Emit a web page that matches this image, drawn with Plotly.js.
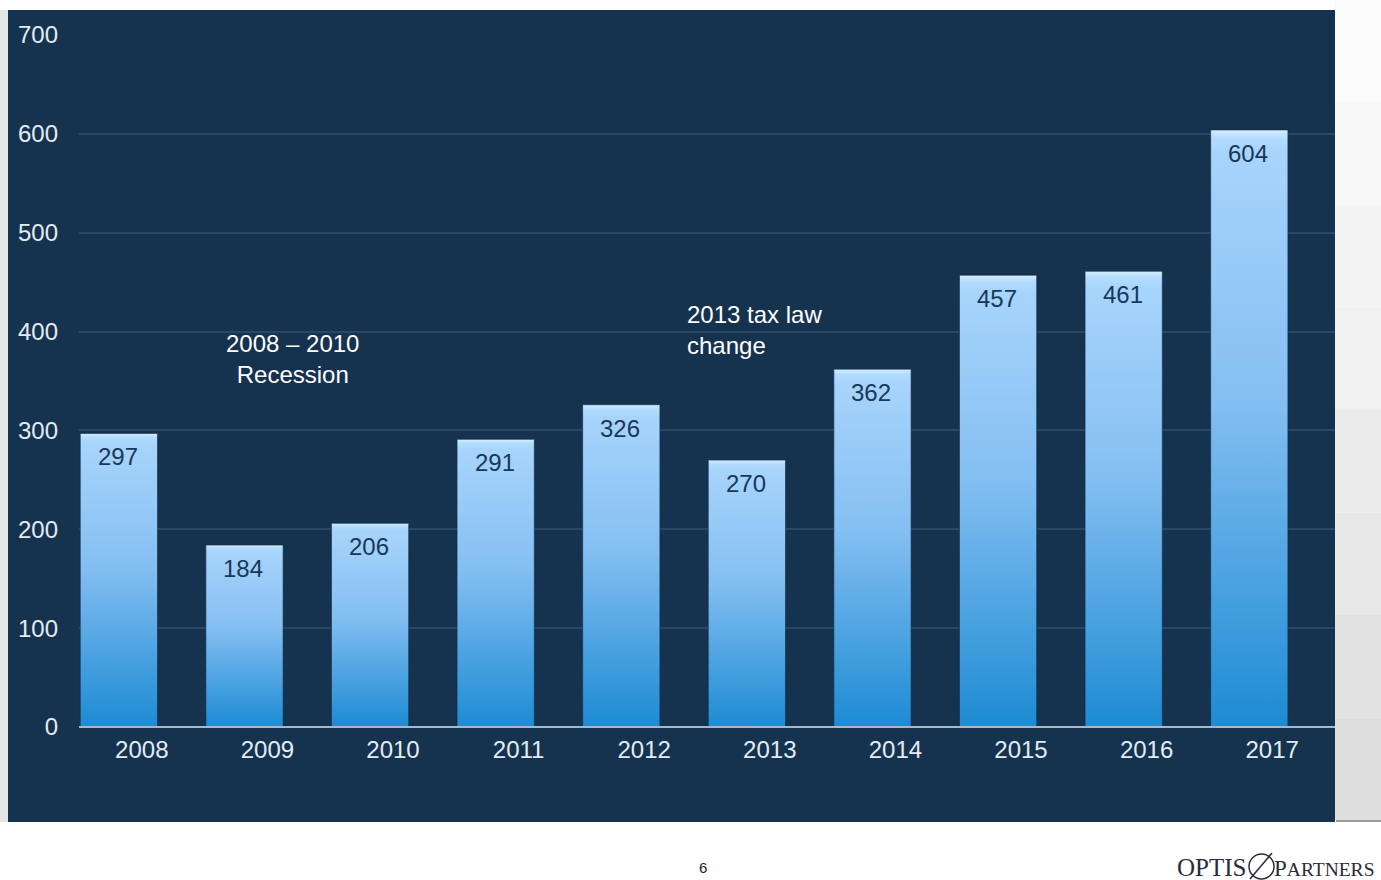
<!DOCTYPE html>
<html>
<head>
<meta charset="utf-8">
<script src="https://cdn.plot.ly/plotly-3.0.1.min.js"></script>
<style>
  html, body { margin: 0; padding: 0; background: #ffffff; }
  #chart { width: 1381px; height: 880px; }
</style>
</head>
<body>
<div id="chart"></div>
<script>
// ---- data ----
const years = ['2008', '2009', '2010', '2011', '2012', '2013', '2014', '2015', '2016', '2017'];
const values = [297, 184, 206, 291, 326, 270, 362, 457, 461, 604];
const yTicks = [0, 100, 200, 300, 400, 500, 600, 700];
const noteRecession = '2008 – 2010<br>Recession';
const noteTaxLaw = '2013 tax law<br>change';
const pageNumber = '6';

// ---- geometry helpers (pixel -> paper) ----
const W = 1381, H = 880;
const L = 79, R = 1335, T = 35, B = 727;
const px = x => (x - L) / (R - L);
const py = y => (B - y) / (B - T);

const FONT = '"Liberation Sans", Arial, Helvetica, sans-serif';
const SERIF = '"Liberation Serif", "DejaVu Serif", serif';
const PANEL = '#15334f';

const barTrace = {
  type: 'bar',
  x: years,
  y: values,
  offset: -0.49,
  width: 0.615,
  marker: { color: '#7bbcf0', line: { width: 0 } },
  hoverinfo: 'x+y',
  showlegend: false
};

// value labels inside the top of each bar (x given as category index)
const valueLabels = years.map((yr, i) => ({
  x: i, y: values[i], xref: 'x', yref: 'y',
  text: String(values[i]),
  showarrow: false,
  xshift: -24, yshift: -8,
  yanchor: 'top', xanchor: 'center',
  font: { family: FONT, size: 24, color: '#17385a' }
}));

const shapes = [
  // dark panel
  { type: 'rect', xref: 'paper', yref: 'paper', layer: 'below',
    x0: px(8), x1: px(1335), y0: py(822), y1: py(10),
    fillcolor: PANEL, line: { width: 0 } },
  // left grey strip
  { type: 'rect', xref: 'paper', yref: 'paper', layer: 'below',
    x0: px(0), x1: px(8), y0: py(822), y1: py(10),
    fillcolor: '#e6e6e6', line: { width: 0 } }
];
// right grey strip: stepped light gradient (decoration)
const stripShades = ['#fbfbfb', '#f8f8f8', '#f4f4f4', '#f0f0f0', '#ebebeb', '#e7e7e7', '#e2e2e2', '#dedede'];
stripShades.forEach((c, k) => {
  const y0 = k * 820 / stripShades.length, y1 = (k + 1) * 820 / stripShades.length;
  shapes.push({ type: 'rect', xref: 'paper', yref: 'paper', layer: 'below',
    x0: px(1335), x1: px(1381), y0: py(y1), y1: py(y0),
    fillcolor: c, line: { width: 0 } });
});
shapes.push(
  { type: 'line', xref: 'paper', yref: 'paper', layer: 'below',
    x0: px(1336), x1: px(1381), y0: py(821), y1: py(821),
    line: { color: '#9a9a9a', width: 2 } },
  // x axis baseline
  { type: 'line', xref: 'paper', yref: 'paper', layer: 'above',
    x0: px(79), x1: px(1335), y0: 0, y1: 0,
    line: { color: '#a9b8c6', width: 2 } },
  // logo circle + stroke
  { type: 'circle', xref: 'paper', yref: 'paper',
    x0: px(1249), x1: px(1274), y0: py(879), y1: py(854),
    line: { color: '#2b2b3b', width: 1.5 } },
  { type: 'line', xref: 'paper', yref: 'paper',
    x0: px(1250), x1: px(1272), y0: py(879), y1: py(853),
    line: { color: '#2b2b3b', width: 1.5 } }
);

const annotations = valueLabels.concat([
  { xref: 'paper', yref: 'paper', x: px(292), y: py(359),
    text: noteRecession, showarrow: false, align: 'center',
    xanchor: 'center', yanchor: 'middle',
    font: { family: FONT, size: 24, color: '#ffffff' } },
  { xref: 'paper', yref: 'paper', x: px(685), y: py(330),
    text: noteTaxLaw, showarrow: false, align: 'left',
    xanchor: 'left', yanchor: 'middle',
    font: { family: FONT, size: 24, color: '#ffffff' } },
  { xref: 'paper', yref: 'paper', x: px(703), y: py(867),
    text: pageNumber, showarrow: false,
    xanchor: 'center', yanchor: 'middle',
    font: { family: FONT, size: 15, color: '#222222' } },
  { xref: 'paper', yref: 'paper', x: px(1248), y: py(867),
    text: 'OPTIS', showarrow: false,
    xanchor: 'right', yanchor: 'middle',
    font: { family: SERIF, size: 25, color: '#2b2b3b' } },
  { xref: 'paper', yref: 'paper', x: px(1272), y: py(868),
    text: 'P<span style="font-size:19.5px">ARTNERS</span>', showarrow: false,
    xanchor: 'left', yanchor: 'middle',
    font: { family: SERIF, size: 23, color: '#2b2b3b' } }
]);

const layout = {
  width: W, height: H,
  margin: { l: L, r: W - R, t: T, b: H - B, pad: 0 },
  paper_bgcolor: '#ffffff',
  plot_bgcolor: 'rgba(0,0,0,0)',
  showlegend: false,
  font: { family: FONT, color: '#e3ecf4', size: 20 },
  xaxis: {
    type: 'category',
    categoryorder: 'array', categoryarray: years,
    range: [-0.5, years.length - 0.5],
    autorange: false,
    showgrid: false, zeroline: false, showline: false,
    ticks: '', ticklabelstandoff: 6,
    tickfont: { family: FONT, size: 24, color: '#e3ecf4' },
    fixedrange: true
  },
  yaxis: {
    range: [0, 700],
    autorange: false,
    tickvals: yTicks,
    ticktext: yTicks.map(String),
    showgrid: true, gridcolor: '#2a4866', gridwidth: 2,
    zeroline: false, showline: false,
    ticks: '', ticklabelstandoff: 20,
    tickfont: { family: FONT, size: 24, color: '#e3ecf4' },
    fixedrange: true
  },
  shapes: shapes,
  annotations: annotations
};

function applyGradient(gd) {
  const svg = gd.querySelector('svg.main-svg');
  if (!svg) return;
  const ns = 'http://www.w3.org/2000/svg';
  let defs = svg.querySelector('defs');
  if (!defs) { defs = document.createElementNS(ns, 'defs'); svg.insertBefore(defs, svg.firstChild); }
  if (!svg.querySelector('#barGrad')) {
    const g = document.createElementNS(ns, 'linearGradient');
    g.setAttribute('id', 'barGrad');
    g.setAttribute('x1', '0'); g.setAttribute('y1', '0');
    g.setAttribute('x2', '0'); g.setAttribute('y2', '1');
    [['0', '#d4edff'], ['0.015', '#b2dbfe'], ['0.04', '#a7d4fb'], ['0.45', '#84bff2'], ['1', '#1d8bd3']]
      .forEach(([o, c]) => {
        const s = document.createElementNS(ns, 'stop');
        s.setAttribute('offset', o); s.setAttribute('stop-color', c);
        g.appendChild(s);
      });
    defs.appendChild(g);
  }
  gd.querySelectorAll('.barlayer .point path').forEach(p => {
    p.style.fill = 'url(#barGrad)';
    p.style.stroke = '#0f2a44';
    p.style.strokeWidth = '1px';
    p.style.strokeOpacity = '0.6';
  });
}

Plotly.newPlot('chart', [barTrace], layout, { displayModeBar: false, staticPlot: true })
  .then(gd => { applyGradient(gd); gd.on('plotly_afterplot', () => applyGradient(gd)); });
</script>
</body>
</html>
